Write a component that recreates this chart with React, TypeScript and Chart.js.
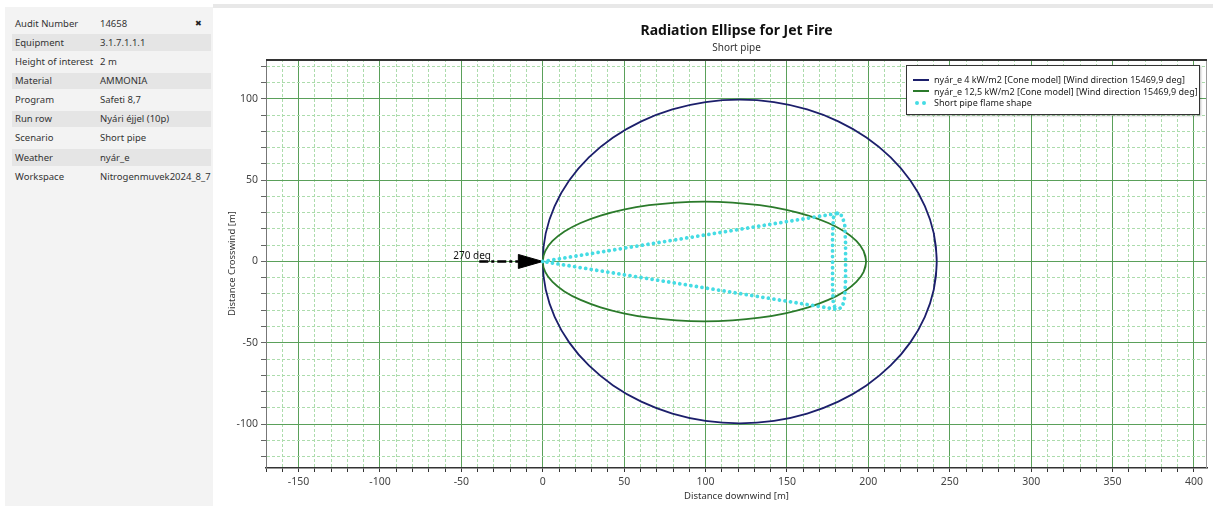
import React, { useEffect, useRef } from 'react';
import { Chart, registerables } from 'chart.js';

Chart.register(...registerables);

// ---------- data ----------
const infoLabels = ['Audit Number', 'Equipment', 'Height of interest', 'Material', 'Program', 'Run row', 'Scenario', 'Weather', 'Workspace'];
const infoValues = ['14658', '3.1.7.1.1.1', '2 m', 'AMMONIA', 'Safeti 8,7', 'Nyári éjjel (10p)', 'Short pipe', 'nyár_e', 'Nitrogenmuvek2024_8_7'];

const chartTitle = 'Radiation Ellipse for Jet Fire';
const chartSubtitle = 'Short pipe';
const xAxisTitle = 'Distance downwind [m]';
const yAxisTitle = 'Distance Crosswind [m]';

const seriesLabels = [
  'nyár_e 4 kW/m2 [Cone model] [Wind direction 15469,9 deg]',
  'nyár_e 12,5 kW/m2 [Cone model] [Wind direction 15469,9 deg]',
  'Short pipe flame shape',
];
const seriesColors = ['#1c1f6b', '#2b7a2b', '#45dce4'];

// 4 kW/m2 ellipse outline (closed loop, first/last points overlap for a smooth join)
const ellipse4X = [240.2, 242, 240.2, 234.7, 225.8, 213.7, 198.8, 181.5, 162.4, 142.0, 121, 100.0, 79.6, 60.5, 43.2, 28.3, 16.2, 7.3, 1.8, 0, 1.8, 7.3, 16.2, 28.3, 43.2, 60.5, 79.6, 100.0, 121, 142.0, 162.4, 181.5, 198.8, 213.7, 225.8, 234.7, 240.2, 242, 240.2];
const ellipse4Y = [-17.27, 0, 17.27, 34.03, 49.75, 63.96, 76.22, 86.17, 93.5, 97.99, 99.5, 97.99, 93.5, 86.17, 76.22, 63.96, 49.75, 34.03, 17.27, 0, -17.27, -34.03, -49.75, -63.96, -76.22, -86.17, -93.5, -97.99, -99.5, -97.99, -93.5, -86.17, -76.22, -63.96, -49.75, -34.03, -17.27, 0, 17.27];

// 12,5 kW/m2 ellipse outline
const ellipse12X = [197.1, 198.6, 197.1, 192.6, 185.3, 175.4, 163.1, 148.95, 133.3, 116.5, 99.3, 82.1, 65.3, 49.65, 35.5, 23.2, 13.3, 6.0, 1.5, 0, 1.5, 6.0, 13.3, 23.2, 35.5, 49.65, 65.3, 82.1, 99.3, 116.5, 133.3, 148.95, 163.1, 175.4, 185.3, 192.6, 197.1, 198.6, 197.1];
const ellipse12Y = [-6.39, 0, 6.39, 12.59, 18.4, 23.66, 28.19, 31.87, 34.58, 36.24, 36.8, 36.24, 34.58, 31.87, 28.19, 23.66, 18.4, 12.59, 6.39, 0, -6.39, -12.59, -18.4, -23.66, -28.19, -31.87, -34.58, -36.24, -36.8, -36.24, -34.58, -31.87, -28.19, -23.66, -18.4, -12.59, -6.39, 0, 6.39];

// flame shape (cone outline + far end cap)
const flameOutlineX = [0, 181, 184, 185.5, 186, 186, 186, 185.5, 184, 181, 0];
const flameOutlineY = [0, 29.6, 28, 22, 11, 0, -11, -22, -28, -29.5, 0];
const flameCapX = [181, 178.5, 178, 178, 178, 178.5, 181];
const flameCapY = [29.6, 27, 15, 0, -15, -27, -29.5];

// wind direction arrow
const windShaftX = [-39, -15];
const windShaftY = [0, 0];
const windHeadX = [-15, 0, -15, -15];
const windHeadY = [4.3, 0, -4.3, 4.3];
const windLabel = '270 deg';
const windLabelAt = [-55, 0];

// axes
const xRange = [-170, 408];
const yRange = [-127, 124.5];
const xLabelTicks = [-150, -100, -50, 0, 50, 100, 150, 200, 250, 300, 350, 400];
const yLabelTicks = [-100, -50, 0, 50, 100];
const minorStep = 10;

// ---------- helpers ----------
const pts = (xs: number[], ys: number[]) => xs.map((x, i) => ({ x, y: ys[i] }));
const FONT = '"Noto Sans", "DejaVu Sans", sans-serif';
const MAJOR = '#5aa05a';
const MINOR = '#acdcac';

const isMajor = (ctx: any, list: number[]) =>
  ctx && ctx.tick && list.some((v) => Math.abs(v - ctx.tick.value) < 1e-6);

const frame = {
  id: 'frame',
  afterDraw(chart: any) {
    const { ctx, chartArea: a } = chart;
    ctx.save();
    ctx.strokeStyle = '#9a9a9a';
    ctx.lineWidth = 1;
    ctx.beginPath();
    ctx.moveTo(a.right - 0.5, a.top);
    ctx.lineTo(a.right - 0.5, a.bottom);
    ctx.stroke();
    ctx.strokeStyle = '#333';
    ctx.lineWidth = 2;
    ctx.beginPath();
    ctx.moveTo(a.left, a.top + 1);
    ctx.lineTo(a.right, a.top + 1);
    ctx.stroke();
    ctx.restore();
  },
};

const windText = {
  id: 'windText',
  afterDatasetsDraw(chart: any) {
    const { ctx, scales } = chart;
    const px = scales.x.getPixelForValue(windLabelAt[0]);
    const py = scales.y.getPixelForValue(windLabelAt[1]);
    ctx.save();
    ctx.font = `10px ${FONT}`;
    ctx.fillStyle = '#111';
    ctx.textAlign = 'left';
    ctx.textBaseline = 'alphabetic';
    ctx.fillText(windLabel, px, py - 2);
    ctx.restore();
  },
};

function RadiationChart() {
  const ref = useRef<HTMLCanvasElement | null>(null);
  useEffect(() => {
    if (!ref.current) return;
    const lineBase = { showLine: true, pointRadius: 0, pointHitRadius: 0, fill: false };
    const chart = new Chart(ref.current, {
      type: 'scatter',
      data: {
        datasets: [
          { ...lineBase, label: seriesLabels[2], data: pts(flameOutlineX, flameOutlineY), borderColor: seriesColors[2], borderWidth: 3.8, borderDash: [0.01, 5.6], borderCapStyle: 'round', tension: 0, order: 0 },
          { ...lineBase, label: seriesLabels[2], data: pts(flameCapX, flameCapY), borderColor: seriesColors[2], borderWidth: 3.8, borderDash: [0.01, 5.6], borderCapStyle: 'round', tension: 0, order: 0 },
          { ...lineBase, label: 'wind', data: pts(windShaftX, windShaftY), borderColor: '#000', borderWidth: 2.4, borderDash: [9, 3, 3, 3], tension: 0, order: 1 },
          { ...lineBase, label: 'wind head', data: pts(windHeadX, windHeadY), borderColor: '#000', backgroundColor: '#000', borderWidth: 1, fill: 'shape', tension: 0, order: 1 },
          { ...lineBase, label: seriesLabels[1], data: pts(ellipse12X, ellipse12Y), borderColor: seriesColors[1], borderWidth: 1.8, tension: 0.4, order: 2 },
          { ...lineBase, label: seriesLabels[0], data: pts(ellipse4X, ellipse4Y), borderColor: seriesColors[0], borderWidth: 1.8, tension: 0.4, order: 3 },
        ] as any,
      },
      options: {
        animation: false,
        responsive: true,
        maintainAspectRatio: false,
        layout: { padding: { left: 0, right: 6, top: 0, bottom: 0 } },
        plugins: {
          legend: { display: false },
          tooltip: { enabled: false },
          title: {
            display: true,
            text: chartTitle,
            fullSize: false,
            color: '#111',
            font: { family: FONT, size: 14, weight: 'bold' },
            padding: { top: 15, bottom: 0 },
          },
          subtitle: {
            display: true,
            text: chartSubtitle,
            fullSize: false,
            color: '#333',
            font: { family: FONT, size: 10 },
            padding: { top: 2, bottom: 5.2 },
          },
        },
        scales: {
          x: {
            type: 'linear',
            position: 'bottom',
            min: xRange[0],
            max: xRange[1],
            afterFit: (s: any) => { s.height = 38; },
            ticks: {
              stepSize: minorStep,
              includeBounds: false,
              autoSkip: false,
              maxRotation: 0,
              padding: 4,
              color: '#444',
              font: { family: FONT, size: 10.5 },
              callback: (v: any) => (xLabelTicks.includes(Number(v)) ? String(v) : ''),
            },
            grid: {
              color: (ctx: any) => (isMajor(ctx, xLabelTicks) ? MAJOR : MINOR),
              lineWidth: 1,
              drawTicks: true,
              tickLength: 4,
              tickColor: '#333',
            },
            border: {
              display: true,
              color: '#333',
              width: 1.5,
              dash: (ctx: any) => (ctx && ctx.tick && !isMajor(ctx, xLabelTicks) ? [3, 2] : []),
            },
            title: {
              display: true,
              text: xAxisTitle,
              color: '#333',
              font: { family: FONT, size: 9.5 },
              padding: { top: 0, bottom: 4.3 },
            },
          },
          y: {
            type: 'linear',
            position: 'left',
            min: yRange[0],
            max: yRange[1],
            afterFit: (s: any) => { s.width = 53; },
            ticks: {
              stepSize: minorStep,
              includeBounds: false,
              autoSkip: false,
              padding: 3,
              color: '#444',
              font: { family: FONT, size: 10.5 },
              callback: (v: any) => (yLabelTicks.includes(Number(v)) ? String(v) : ''),
            },
            grid: {
              color: (ctx: any) => (isMajor(ctx, yLabelTicks) ? MAJOR : MINOR),
              lineWidth: 1,
              drawTicks: true,
              tickLength: 5,
              tickColor: '#666',
            },
            border: {
              display: true,
              color: '#777',
              width: 1,
              dash: (ctx: any) => (ctx && ctx.tick && !isMajor(ctx, yLabelTicks) ? [3, 2] : []),
            },
            title: {
              display: true,
              text: yAxisTitle,
              color: '#333',
              font: { family: FONT, size: 9.5 },
              padding: { top: 13.3, bottom: 0 },
            },
          },
        },
      } as any,
      plugins: [frame, windText],
    });
    return () => chart.destroy();
  }, []);
  return <canvas ref={ref} style={{ display: 'block' }} />;
}

function LegendBox() {
  const kinds = ['line', 'line', 'dots'];
  return (
    <div
      style={{
        position: 'absolute', left: 906, top: 65, width: 294, height: 50,
        background: '#fff', border: '1px solid #333', boxShadow: '1px 1px 2px rgba(0,0,0,0.25)',
        fontFamily: FONT, fontSize: 9, color: '#222', boxSizing: 'border-box', padding: '8px 0 0 6px',
      }}
    >
      {seriesLabels.map((lab, i) => (
        <div key={i} style={{ display: 'flex', alignItems: 'center', height: 11.5, whiteSpace: 'nowrap' }}>
          <span style={{ width: 16, height: 10, position: 'relative', marginRight: 5, flex: 'none' }}>
            {kinds[i] === 'line' ? (
              <span style={{ position: 'absolute', left: 0, top: 4, width: 16, height: 2, background: seriesColors[i] }} />
            ) : (
              <>
                <span style={{ position: 'absolute', left: 2, top: 3.5, width: 3.5, height: 3.5, borderRadius: 2, background: seriesColors[i] }} />
                <span style={{ position: 'absolute', left: 9, top: 3.5, width: 3.5, height: 3.5, borderRadius: 2, background: seriesColors[i] }} />
              </>
            )}
          </span>
          <span>{lab}</span>
        </div>
      ))}
    </div>
  );
}

function InfoPanel() {
  return (
    <div style={{ position: 'absolute', left: 5, top: 7, width: 208, height: 499, background: '#f3f3f3', fontFamily: FONT, fontSize: 9.5, color: '#333' }}>
      {infoLabels.map((lab, i) => (
        <div
          key={i}
          style={{
            position: 'absolute', left: 7, top: 8.3 + i * 19.1, width: 199, height: 16.7,
            background: i % 2 === 1 ? '#e5e5e5' : 'transparent',
          }}
        >
          <span style={{ position: 'absolute', left: 3, top: 1.5, whiteSpace: 'nowrap' }}>{lab}</span>
          <span style={{ position: 'absolute', left: 88, top: 1.5, whiteSpace: 'nowrap' }}>{infoValues[i]}</span>
          {i === 0 && (
            <span style={{ position: 'absolute', left: 183, top: 2, fontSize: 8, color: '#222' }}>✖</span>
          )}
        </div>
      ))}
    </div>
  );
}

export default function App() {
  useEffect(() => {
    document.body.style.margin = '0';
  }, []);
  return (
    <div style={{ position: 'fixed', left: 0, top: 0, width: 1213, height: 506, background: '#fff', overflow: 'hidden' }}>
      <div style={{ position: 'absolute', left: 213, top: 4, width: 1000, height: 4, background: '#e8e8e8' }} />
      <InfoPanel />
      <div style={{ position: 'absolute', left: 213, top: 8, width: 1000, height: 498 }}>
        <RadiationChart />
      </div>
      <LegendBox />
    </div>
  );
}
